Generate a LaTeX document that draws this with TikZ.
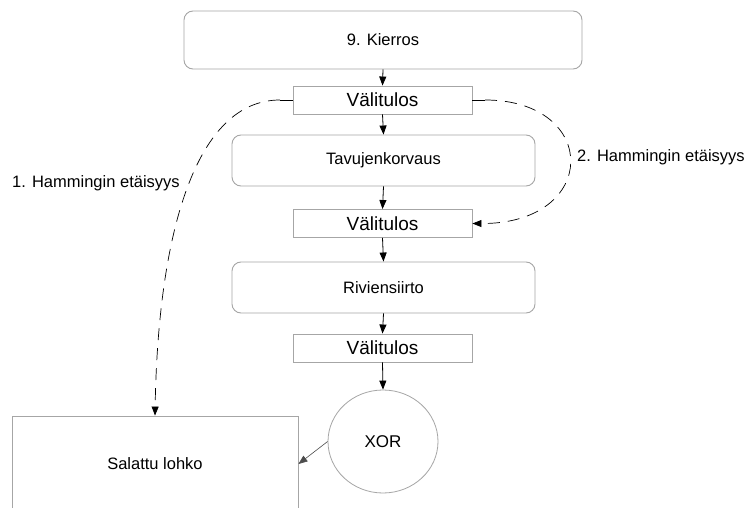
\documentclass[tikz,border=0pt]{standalone}
\usepackage{fontspec}
\setmainfont{Liberation Sans}
\usetikzlibrary{arrows.meta,shapes.geometric}
\definecolor{boxline}{HTML}{A6A6A6}
\tikzset{
  stage/.style={draw=boxline, line width=0.9pt, rounded corners=9pt, minimum width=303pt,
    minimum height=51pt, inner sep=0pt, font=\fontsize{16.5}{19}\selectfont},
  interim/.style={draw=boxline, line width=0.9pt, minimum width=179pt, minimum height=28pt,
    inner sep=0pt, font=\fontsize{19}{22}\selectfont},
  flow/.style={line width=0.8pt, -{Triangle[length=9pt,width=7pt]}},
  hamming/.style={line width=0.7pt, dash pattern=on 12pt off 8pt, -{Triangle[length=9pt,width=7pt]}},
  lbl/.style={font=\fontsize{16.5}{19}\selectfont, inner sep=0pt}
}
\begin{document}
\begin{tikzpicture}[x=1pt,y=-1pt]
\useasboundingbox (0,0) rectangle (747,508);
\fill[white] (0,0) rectangle (747,508);

% round and its intermediate results
\node[stage, minimum width=398pt, minimum height=58pt] (kierros) at (383,40) {9. Kierros};
\node[interim] (v1) at (382.5,100) {Välitulos};
\node[stage] (tavu) at (383.5,160.5) {Tavujenkorvaus};
\node[interim] (v2) at (382.5,223.5) {Välitulos};
\node[stage] (rivi) at (383.5,287.5) {Riviensiirto};
\node[interim] (v3) at (382.5,348) {Välitulos};
\node[draw=boxline, line width=0.8pt, ellipse, minimum width=110pt, minimum height=103pt,
  inner sep=0pt, font=\fontsize{17}{20}\selectfont] (xor) at (383,441.5) {XOR};

% ciphertext block, running off the bottom edge
\node[draw=boxline, line width=0.9pt, minimum width=286pt, minimum height=96pt, inner sep=0pt,
  font=\fontsize{16.5}{19}\selectfont] (lohko) at (155,464) {Salattu lohko};

% main flow
\draw[flow] (kierros.south) -- (v1.north);
\draw[flow] (v1.south) -- (tavu.north);
\draw[flow] (tavu.south) -- (v2.north);
\draw[flow] (v2.south) -- (rivi.north);
\draw[flow] (rivi.south) -- (v3.north);
\draw[flow] (v3.south) -- (xor.north);
\draw[line width=0.6pt, draw=black!70, -{Triangle[length=9pt,width=7pt]}]
  (xor.west) -- (lohko.east);

% Hamming distance comparisons
\coordinate (h1) at (280,100);
\coordinate (h2) at (485,100);
\draw[line width=0.7pt] (v1.west) -- (h1);
\draw[hamming] (h1) .. controls (195,100) and (158,235) .. (lohko.north);
\draw[line width=0.7pt] (v1.east) -- (h2);
\draw[hamming] (h2) .. controls (600,100) and (600,224) .. (v2.east);

\node[lbl, anchor=west] (l1) at (12,183) {1. Hammingin etäisyys};
\node[lbl, anchor=west] (l2) at (577,157) {2. Hammingin etäisyys};
\end{tikzpicture}
\end{document}
